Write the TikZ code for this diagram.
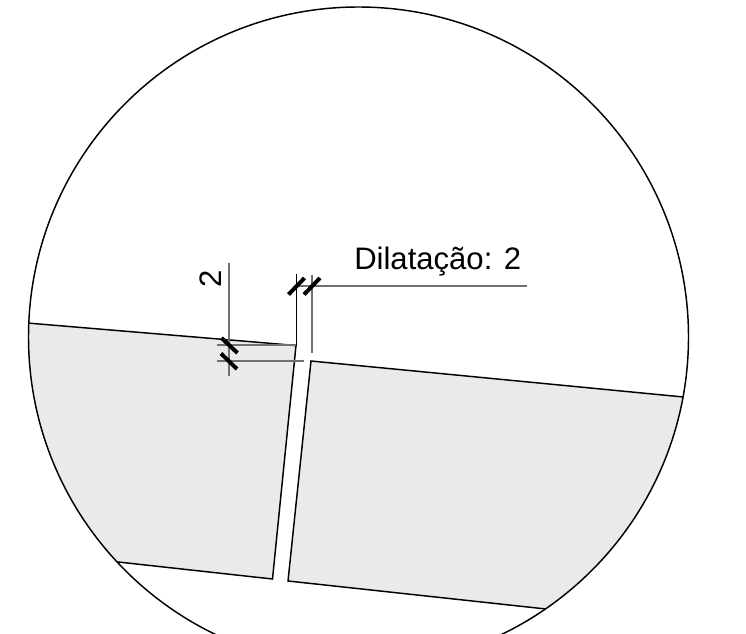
\documentclass[tikz,border=0pt]{standalone}
\usepackage{fontspec}
\setmainfont{Liberation Sans}
\definecolor{blockfill}{HTML}{EAEAEA}
\definecolor{dimgrey}{HTML}{707070}
\tikzset{x=0.75pt,y=-0.75pt,
 outline/.style={draw=black,line width=1.1pt,line join=miter},
 dimline/.style={draw=dimgrey,line width=0.95pt},
 tick/.style={draw=black,line width=3pt},
 lbl/.style={inner sep=0pt,font=\fontsize{23.3}{26}\selectfont}}
\begin{document}
\begin{tikzpicture}
\useasboundingbox (0,0) rectangle (746,634);
\begin{scope}
\clip (0,0) rectangle (746,634);
\begin{scope}
\clip (358.5,337) circle [radius=330];
\fill[blockfill] (20,322.4) -- (296,345.5) -- (272.5,579) -- (100,560) -- (0,400) -- cycle;
\fill[blockfill] (311,361) -- (700,398.6) -- (700,620) -- (546,609) -- (288,581) -- cycle;
\draw[outline] (20,322.4) -- (296,345.5) -- (272.5,579) -- (100,560);
\draw[outline] (700,398.6) -- (311,361) -- (288,581) -- (570,611.6);
\end{scope}
\draw[outline] (358.5,337) circle [radius=330];
\end{scope}
% dimension lines
\draw[dimline] (229,263) -- (229,376);
\draw[dimline] (217,345) -- (296,345);
\draw[dimline] (217,361) -- (304,361);
\draw[dimline] (312,275) -- (312,353);
\draw[dimline] (297,286) -- (527,286);
\draw[outline] (296.5,274) -- (296.5,346);
\draw[tick] (221.5,338) -- (237.5,353);
\draw[tick] (221,353.5) -- (237,369);
\draw[tick] (288.5,294.5) -- (304.5,278);
\draw[tick] (304,294.5) -- (320,278);
\node[lbl,anchor=base west] (dil) at (354,270) {Dilatação: 2};
\node[lbl,rotate=90,anchor=base] (two) at (221.5,278.5) {2};
\end{tikzpicture}
\end{document}
